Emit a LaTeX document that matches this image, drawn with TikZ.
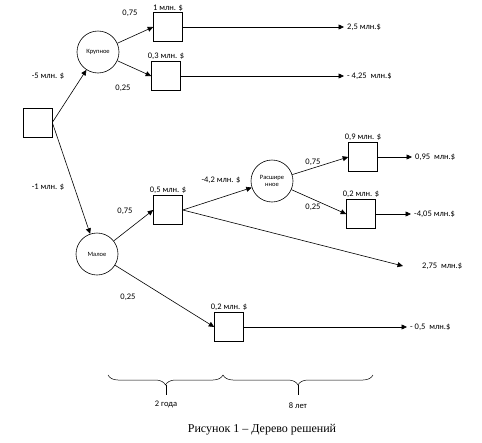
\documentclass[tikz,border=0pt]{standalone}
\usepackage{fontspec}
\setmainfont{Liberation Serif}
\setsansfont{Carlito}
\usetikzlibrary{arrows.meta,positioning,decorations.pathreplacing}

\begin{document}
\begin{tikzpicture}[
    x=1pt, y=-1pt,
    >={Triangle[length=5.5pt,width=5pt]},
    font=\sffamily\fontsize{8.5}{10}\selectfont,
    % decision squares and chance circles
    dec/.style={draw, line width=0.6pt, minimum size=29pt, inner sep=0pt},
    chance/.style={draw, circle, line width=0.6pt, minimum size=42pt, inner sep=0pt,
                   align=center, font=\sffamily\fontsize{6.5}{7.5}\selectfont},
    flow/.style={->, line width=0.6pt},
    cost/.style={inner sep=1pt},
    pay/.style={anchor=west, inner sep=3pt},
    prob/.style={inner sep=1pt},
    brc/.style={decorate, decoration={brace, mirror, amplitude=10pt}, line width=0.5pt},
]
\useasboundingbox (0,0) rectangle (482,442);

%================= nodes =================%
\node[dec] (root) at (37.5,122.5) {};
\node[chance] (krup) at (98,52) {Крупное};
\node[chance] (malo) at (97,254) {Малое};
\node[dec] (sqA) at (168,27) {};
\node[dec] (sqB) at (166,76) {};
\node[dec] (sqC) at (168,210) {};
\node[chance] (rasch) at (272,181) {Расшире\\нное};
\node[dec] (sqD) at (363,157) {};
\node[dec] (sqE) at (361,214) {};
\node[dec] (sqF) at (229,327) {};

%================= costs over the squares =================%
\node[cost, above=0pt of sqA] (cA) {1 млн. \$};
\node[cost, above=0pt of sqB] (cB) {0,3 млн. \$};
\node[cost, above=0pt of sqC] (cC) {0,5 млн. \$};
\node[cost, above=0pt of sqD] (cD) {0,9 млн. \$};
\node[cost, above=0pt of sqE] (cE) {0,2 млн. \$};
\node[cost, above=0pt of sqF] (cF) {0,2 млн. \$};

%================= outcomes =================%
\node[pay] (pA) at (344,27)  {2,5 млн.\$};
\node[pay] (pB) at (344,76)  {- 4,25\ \ млн.\$};
\node[pay] (pD) at (412,157) {0,95\ \ млн.\$};
\node[pay] (pE) at (411,214) {-4,05 млн.\$};
\node[pay] (p275) at (419,266) {2,75\ \ млн.\$};
\coordinate (e275) at (403,266);
\node[pay] (pF) at (407,327) {- 0,5\ \ млн.\$};

%================= branches =================%
\draw[flow] (root.east) -- (krup);
\draw[flow] (root.east) -- (malo);
\draw[flow] (krup) -- (sqA.west);
\draw[flow] (krup) -- (sqB.west);
\draw[flow] (malo) -- (sqC.west);
\draw[flow] (malo) -- (sqF.west);
\draw[flow] (sqC.east) -- (rasch);
\draw[flow] (sqC.east) -- (e275);
\draw[flow] (rasch) -- (sqD.west);
\draw[flow] (rasch) -- (sqE.west);
\draw[flow] (sqA) -- (pA);
\draw[flow] (sqB) -- (pB);
\draw[flow] (sqD) -- (pD);
\draw[flow] (sqE) -- (pE);
\draw[flow] (sqF) -- (pF);

%================= branch labels =================%
\node[prob] (lk)  at (48,76)   {-5 млн. \$};
\node[prob] (lm)  at (48,187)  {-1 млн. \$};
\node[prob] (lA)  at (130,13)  {0,75};
\node[prob] (lB)  at (123,88)  {0,25};
\node[prob] (lC)  at (125,211) {0,75};
\node[prob] (lF)  at (128,297) {0,25};
\node[prob] (lr)  at (221,180) {-4,2 млн. \$};
\node[prob] (lD)  at (313,162) {0,75};
\node[prob] (lE)  at (313,207) {0,25};

%================= time scale =================%
\coordinate (t0) at (108,375);
\coordinate (t1) at (223,375);
\coordinate (t2) at (373,375);
\draw[brc] (t0) -- (t1);
\draw[brc] (t1) -- (t2);
\draw[line width=0.5pt] (166,385) -- (166,395);
\draw[line width=0.5pt] (298,385) -- (298,395);
\node (y2) at (166,404) {2 года};
\node (y8) at (298,406) {8 лет};

\node[font=\rmfamily\fontsize{12}{14}\selectfont] (cap) at (262,430) {Рисунок 1 -- Дерево решений};
\end{tikzpicture}
\end{document}
